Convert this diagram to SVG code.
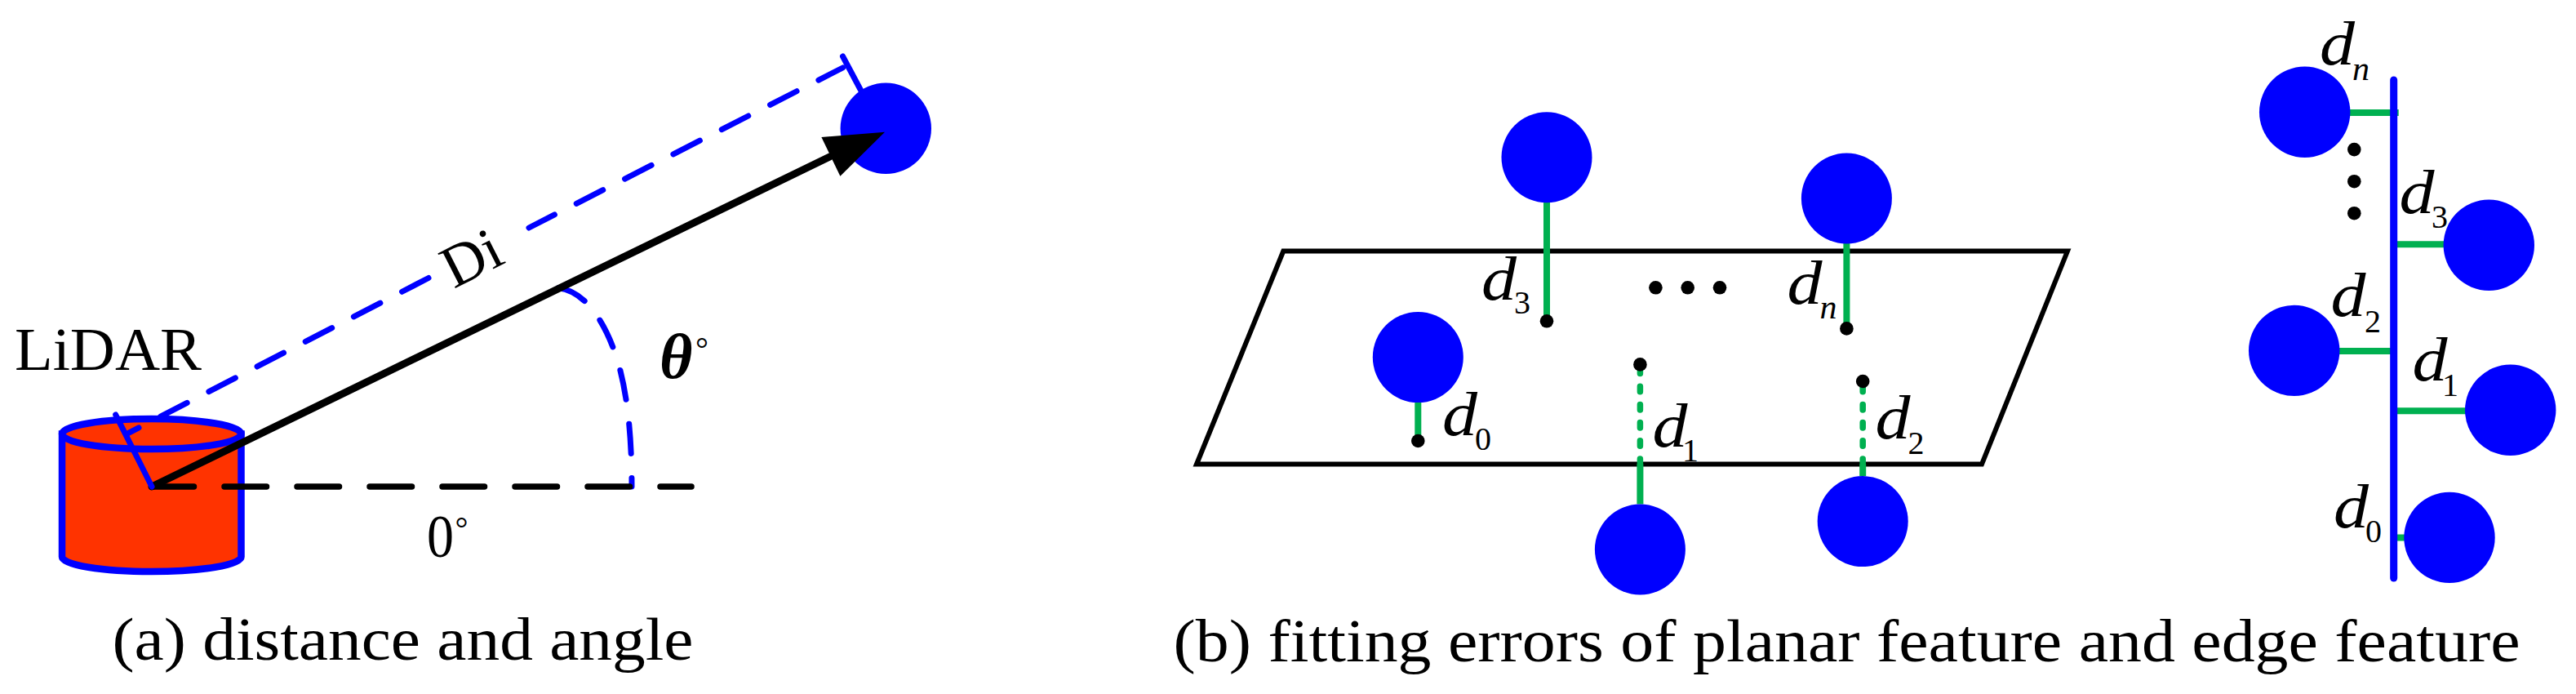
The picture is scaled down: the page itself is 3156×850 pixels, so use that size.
<svg xmlns="http://www.w3.org/2000/svg" width="3156" height="850" viewBox="0 0 3156 850">
<style>
text{font-family:"Liberation Serif","Times New Roman",serif;fill:#000}
.cap{font-size:73px}
.d{font-size:76px;font-style:italic}
.s{font-size:40px}
.si{font-size:42px;font-style:italic}
.deg{font-size:40px}
.pt{fill:#00f}
.dot{fill:#000}
.g{stroke:#00b050;stroke-width:8;fill:none}
.gd{stroke:#00b050;stroke-width:7.500;fill:none;stroke-dasharray:6.500 15.700;stroke-linecap:round}
.bd{stroke:#00f;stroke-width:7;fill:none;stroke-linecap:round;stroke-dasharray:36.500 30.100}
.b{stroke:#00f;stroke-width:7;fill:none;stroke-linecap:round}
</style>
<rect width="3156" height="850" fill="#fff"/>
<g id="lidar">
<path d="M76 531.600V682A109.750 18 0 0 0 295.500 682V531.600Z" fill="#ff3300" stroke="#00f" stroke-width="8.500"/>
<ellipse cx="185.750" cy="531.600" rx="109.750" ry="18.500" fill="#ff3300" stroke="#00f" stroke-width="8.500"/>
<text class="cap" x="18" y="453" textLength="229" lengthAdjust="spacingAndGlyphs">LiDAR</text>
</g>
<g id="target-a"><circle class="pt" cx="1085.300" cy="157.300" r="55.700"/></g>
<g id="connectors-a">
<path class="bd" d="M1032.500 83L648 279" stroke-dashoffset="3.300"/>
<path class="bd" d="M525 340.500L155 531.700"/>
<path class="bd" d="M684 352.700C715 356 738 390 752 428S774 520 774 596"/>
<path d="M186 596H847" fill="none" stroke="#000" stroke-width="7.500" stroke-linecap="round" stroke-dasharray="51.500 37.500"/>
<path d="M186 596L1017 191.700" fill="none" stroke="#000" stroke-width="9" stroke-linecap="round"/>
<polygon points="1084,161.700 1006.400,168 1029.400,215.700" fill="#000"/>
<path class="b" d="M186 596L141.700 508M1032.500 69L1055.400 112"/>
</g>
<g id="labels-a">
<text class="cap" transform="translate(556 354) rotate(-26.900)" font-size="72">Di</text>
<text x="523" y="682" font-size="73" textLength="33" lengthAdjust="spacingAndGlyphs">0</text>
<text class="deg" x="557.500" y="661">°</text>
<text x="808" y="463" font-size="78" font-style="italic" font-weight="bold">θ</text>
<text class="deg" x="852" y="441">°</text>
<text class="cap" x="137.500" y="808" textLength="712" lengthAdjust="spacingAndGlyphs">(a) distance and angle</text>
</g>
<g id="plane"><polygon points="1572.300,307.500 2533,307.500 2428,568.500 1466,568.500" fill="none" stroke="#000" stroke-width="6"/></g>
<g id="connectors-b">
<path class="g" d="M1895 248V393M2262.400 298V402M1737.300 493V540M2009.400 568.500V617.500M2282.200 568.500V583"/>
<path class="gd" d="M2009.400 568.500V446"/>
<path class="gd" d="M2282.200 568.500V467"/>
</g>
<g id="p3"><circle class="pt" cx="1895" cy="192.700" r="55.500"/><circle class="dot" cx="1895" cy="393.300" r="8.300"/>
<text class="d" x="1815" y="367" textLength="43" lengthAdjust="spacingAndGlyphs">d</text><text class="s" x="1855" y="384">3</text></g>
<g id="pn"><circle class="pt" cx="2262.400" cy="243" r="55.500"/><circle class="dot" cx="2262.400" cy="402.400" r="8.300"/>
<text class="d" x="2189.500" y="372" textLength="43" lengthAdjust="spacingAndGlyphs">d</text><text class="si" x="2229.500" y="390">n</text></g>
<g id="p0"><circle class="pt" cx="1737.300" cy="437.600" r="55.500"/><circle class="dot" cx="1737.300" cy="540" r="8.300"/>
<text class="d" x="1767" y="532.500" textLength="43" lengthAdjust="spacingAndGlyphs">d</text><text class="s" x="1807" y="550.500">0</text></g>
<g id="p1"><circle class="pt" cx="2009.400" cy="673" r="55.500"/><circle class="dot" cx="2009.400" cy="446.400" r="8.300"/>
<text class="d" x="2024.500" y="546.700" textLength="43" lengthAdjust="spacingAndGlyphs">d</text><text class="s" x="2061" y="564.700">1</text></g>
<g id="p2"><circle class="pt" cx="2282.200" cy="638.600" r="55.500"/><circle class="dot" cx="2282.200" cy="467" r="8.300"/>
<text class="d" x="2297.500" y="537" textLength="43" lengthAdjust="spacingAndGlyphs">d</text><text class="s" x="2337.500" y="555.500">2</text></g>
<g id="ellipsis-b"><circle class="dot" cx="2028.400" cy="352.300" r="8.300"/><circle class="dot" cx="2067.700" cy="352.300" r="8.300"/><circle class="dot" cx="2107" cy="352.300" r="8.300"/></g>
<g id="connectors-c">
<path class="g" d="M2870 138H2938.700M2933 299.300H3000M2860 429.900H2933M2933 503.200H3025M2933 658.400H2955"/>
<path d="M2932.700 98V708" fill="none" stroke="#00f" stroke-width="9" stroke-linecap="round"/>
</g>
<g id="en"><circle class="pt" cx="2823.700" cy="137.200" r="55.700"/><text class="d" x="2842" y="79.300" textLength="43" lengthAdjust="spacingAndGlyphs">d</text><text class="si" x="2882" y="97.700">n</text></g>
<g id="e3"><circle class="pt" cx="3049.300" cy="300.200" r="55.700"/><text class="d" x="2939.500" y="261.200" textLength="43" lengthAdjust="spacingAndGlyphs">d</text><text class="s" x="2979" y="279">3</text></g>
<g id="e2"><circle class="pt" cx="2810.700" cy="429.400" r="55.700"/><text class="d" x="2855.500" y="387.400" textLength="43" lengthAdjust="spacingAndGlyphs">d</text><text class="s" x="2897" y="406.500">2</text></g>
<g id="e1"><circle class="pt" cx="3075.700" cy="502.300" r="55.700"/><text class="d" x="2955.500" y="466.300" textLength="43" lengthAdjust="spacingAndGlyphs">d</text><text class="s" x="2992" y="484.500">1</text></g>
<g id="e0"><circle class="pt" cx="3001" cy="658.400" r="55.700"/><text class="d" x="2859" y="646.300" textLength="43" lengthAdjust="spacingAndGlyphs">d</text><text class="s" x="2898" y="663.600">0</text></g>
<g id="ellipsis-c"><circle class="dot" cx="2884.300" cy="183.100" r="8.300"/><circle class="dot" cx="2884.300" cy="222.200" r="8.300"/><circle class="dot" cx="2884.300" cy="261.200" r="8.300"/></g>
<g id="caption-b"><text class="cap" x="1437.500" y="810" textLength="1650" lengthAdjust="spacingAndGlyphs">(b) fitting errors of planar feature and edge feature</text></g>
</svg>
